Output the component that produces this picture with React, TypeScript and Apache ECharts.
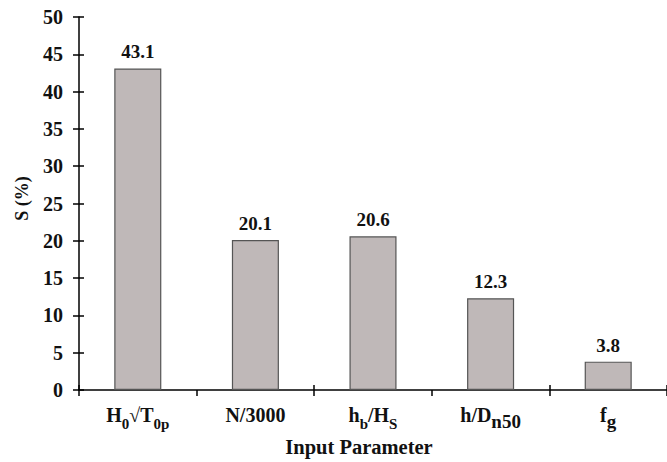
import React, { useEffect, useRef } from "react";
import * as echarts from "echarts";

const categories = ["{m|H}{s|0}{m|√T}{s|0p}", "{m|N/3000}", "{m|h}{s|b}{m|/H}{s|S}", "{m|h/D}{b|n50}", "{m|f}{b|g}"];
const values = [43.1, 20.1, 20.6, 12.3, 3.8];
const yTitle = "S (%)";
const xTitle = "Input Parameter";

const FONT = "'Liberation Serif', 'Times New Roman', serif";

export default function App() {
  const ref = useRef<HTMLDivElement>(null);
  useEffect(() => {
    if (!ref.current) return;
    const chart = echarts.init(ref.current, undefined, { renderer: "svg" });
    const axisLineStyle = { color: "#000", width: 1.5 };
    chart.setOption({
      animation: false,
      backgroundColor: "#fff",
      grid: { left: 79, right: 0, top: 17, bottom: 69, containLabel: false },
      xAxis: [
        {
          type: "category",
          data: categories,
          boundaryGap: true,
          axisLine: { lineStyle: axisLineStyle },
          axisTick: { show: true, length: 6, lineStyle: axisLineStyle },
          axisLabel: {
            interval: 0,
            margin: 9,
            formatter: (v: string) => v,
            rich: {
              m: { fontFamily: FONT, fontWeight: "bold", fontSize: 20, color: "#111", lineHeight: 32, verticalAlign: "middle" },
              s: { fontFamily: FONT, fontWeight: "bold", fontSize: 15, color: "#111", lineHeight: 32, verticalAlign: "bottom" },
              b: { fontFamily: FONT, fontWeight: "bold", fontSize: 19, color: "#111", lineHeight: 32, verticalAlign: "bottom" },
            },
          },
          name: xTitle,
          nameLocation: "middle",
          nameGap: 46,
          nameTextStyle: { fontFamily: FONT, fontWeight: "bold", fontSize: 20.5, color: "#111", padding: [0, 28, 0, 0] },
        },
        {
          type: "category",
          data: categories,
          position: "bottom",
          boundaryGap: true,
          axisLine: { show: false },
          axisTick: { show: true, inside: true, length: 5, lineStyle: axisLineStyle },
          axisLabel: { show: false },
        },
      ],
      yAxis: [
        {
          type: "value",
          min: 0,
          max: 50,
          interval: 5,
          splitLine: { show: false },
          axisLine: { show: true, lineStyle: axisLineStyle },
          axisTick: { show: true, length: 6, lineStyle: axisLineStyle },
          axisLabel: { margin: 16, fontFamily: FONT, fontWeight: "bold", fontSize: 20, color: "#111" },
          name: yTitle,
          nameLocation: "middle",
          nameGap: 48,
          nameTextStyle: { fontFamily: FONT, fontWeight: "bold", fontSize: 18, color: "#111", padding: [0, 0, 0, 10] },
        },
        {
          type: "value",
          min: 0,
          max: 50,
          interval: 5,
          position: "left",
          splitLine: { show: false },
          axisLine: { show: false },
          axisTick: { show: true, inside: true, length: 5, lineStyle: axisLineStyle },
          axisLabel: { show: false },
        },
      ],
      series: [
        {
          type: "bar",
          data: values,
          barWidth: "40%",
          itemStyle: { color: "#BFB8B8", borderColor: "#555", borderWidth: 1.2 },
          label: {
            show: true,
            position: "top",
            distance: 7,
            formatter: (p: any) => p.value.toFixed(1),
            fontFamily: FONT,
            fontWeight: "bold",
            fontSize: 19,
            color: "#111",
          },
        },
      ],
    });
    return () => chart.dispose();
  }, []);
  return <div ref={ref} style={{ width: 667, height: 462, position: "absolute", left: 0, top: 0 }} />;
}
